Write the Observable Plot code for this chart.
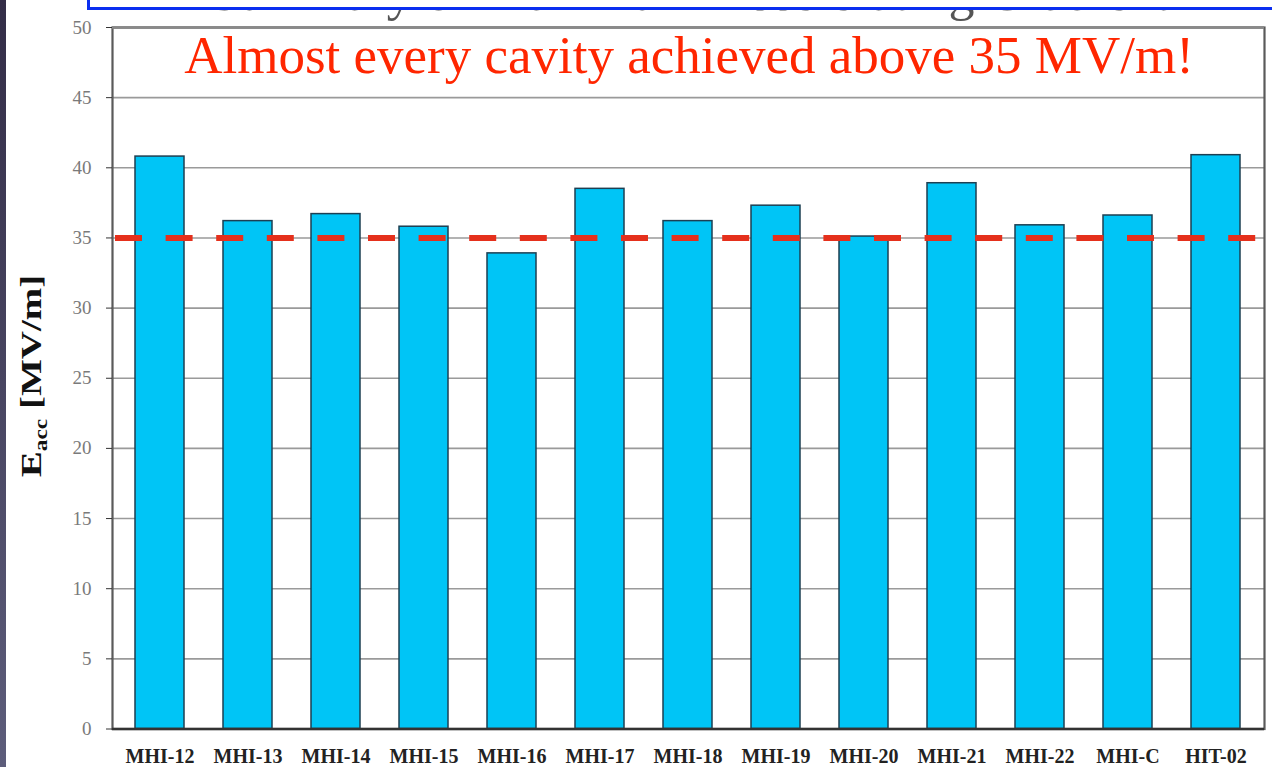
<!DOCTYPE html>
<html>
<head>
<meta charset="utf-8">
<script src="https://cdn.jsdelivr.net/npm/d3@7"></script>
<script src="https://cdn.jsdelivr.net/npm/@observablehq/plot@0.6"></script>
<style>
  html, body { margin: 0; padding: 0; background: #fff; }
  #wrap { position: relative; width: 1272px; height: 767px; overflow: hidden; background: #fff;
          font-family: "Liberation Serif", "Times New Roman", serif; }
  #strip { position: absolute; left: 0; top: 0; width: 6px; height: 767px;
           background: linear-gradient(#332d47, #5d5d7b); z-index: 5; }
  #chart { position: absolute; left: 0; top: 0; }
  #oldtitle { position: absolute; left: 0; top: 0; width: 1272px; height: 26px; overflow: hidden; z-index: 2; }
  #oldtitle span { position: absolute; left: 690px; top: -33px; transform: translateX(-50%);
                   font-size: 52px; line-height: 1; color: #555; white-space: nowrap; }
  #box { position: absolute; left: 87px; top: -40px; width: 1300px; height: 44px;
         border: 3px solid #0b2ef0; background: #fff; z-index: 3; }
  #headline { position: absolute; left: 689px; top: 28.6px; transform: translateX(-50%);
              font-size: 53px; line-height: 1; color: #ff2600; white-space: nowrap; z-index: 4; }
  #ylabel { position: absolute; left: 33px; top: 376px; font-weight: bold; font-size: 30px; line-height: 1;
            color: #111; white-space: nowrap;
            transform: translate(-50%, -50%) rotate(-90deg) scaleX(1.3); }
  #ylabel sub { font-size: 0.6em; vertical-align: -0.3em; }
</style>
</head>
<body>
<div id="wrap">
  <div id="chart"></div>
  <div id="oldtitle"><span>Summary of Maximum Accelerating Gradient</span></div>
  <div id="box"></div>
  <div id="headline">Almost every cavity achieved above 35 MV/m!</div>
  <div id="ylabel">E<sub>acc</sub> [MV/m]</div>
  <div id="strip"></div>
</div>
<script>
const cavities = ["MHI-12", "MHI-13", "MHI-14", "MHI-15", "MHI-16", "MHI-17", "MHI-18",
                  "MHI-19", "MHI-20", "MHI-21", "MHI-22", "MHI-C", "HIT-02"];
const eacc = [40.8, 36.2, 36.7, 35.8, 33.9, 38.5, 36.2, 37.3, 35.1, 38.9, 35.9, 36.6, 40.9];
const yTicks = [0, 5, 10, 15, 20, 25, 30, 35, 40, 45, 50];
const threshold = [35];

const data = cavities.map((c, i) => ({cavity: c, eacc: eacc[i]}));

const chart = Plot.plot({
  width: 1272,
  height: 767,
  marginLeft: 112,
  marginRight: 8,
  marginTop: 27,
  marginBottom: 38.5,
  style: {fontFamily: "'Liberation Serif', 'Times New Roman', serif", background: "transparent", overflow: "visible"},
  x: {domain: cavities, paddingInner: 0.44, paddingOuter: 0.22, label: null},
  y: {domain: [0, 50], label: null},
  marks: [
    Plot.ruleY(yTicks, {stroke: "#9a9a9a", strokeWidth: 1.6}),
    Plot.barY(data, {x: "cavity", y: "eacc", fill: "#00c5f6", stroke: "#1d3f52", strokeWidth: 1.5}),
    Plot.ruleY(threshold, {stroke: "#e5301c", strokeWidth: 6, strokeDasharray: "27,23.6", strokeDashoffset: -3}),
    Plot.frame({stroke: "#5a5a5a", strokeWidth: 2.2}),
    Plot.ruleY([50], {stroke: "#8a8a8a", strokeWidth: 2.5}),
    Plot.ruleY([0], {stroke: "#333", strokeWidth: 2.5}),
    Plot.axisY({ticks: yTicks, tickSize: 6, tickPadding: 15, fontSize: 19, fill: "#7a7a7a", stroke: "#333", label: null}),
    Plot.axisX({tickSize: 0, tickPadding: 19.5, fontSize: 20, fontWeight: "bold", fill: "#222", label: null})
  ]
});
document.getElementById("chart").appendChild(chart);
</script>
</body>
</html>
